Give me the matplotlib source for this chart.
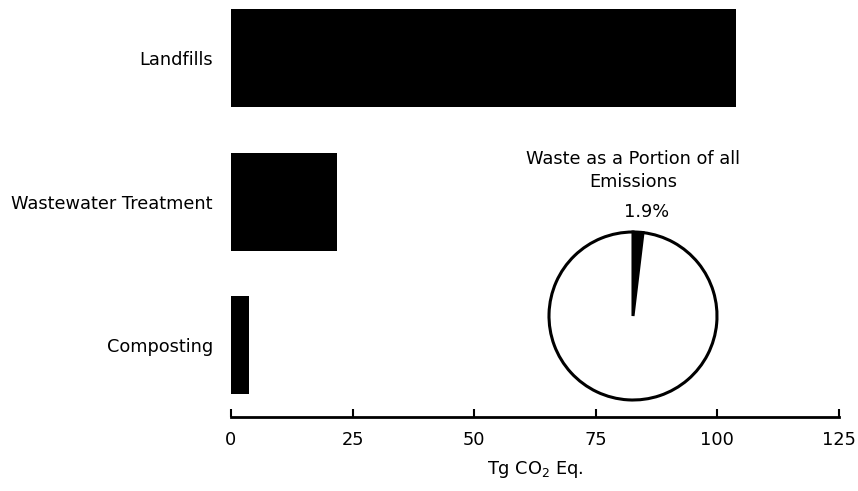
"""
Waste sector emissions: bar chart with a pie inset
"""
import matplotlib

matplotlib.use("Agg")
import matplotlib.pyplot as plt

# Data
categories = ["Landfills", "Wastewater Treatment", "Composting"]
emissions = [103.8, 21.7, 3.8]
xticks = [0, 25, 50, 75, 100, 125]

pie_labels = ["Waste", "Other"]
pie_share = [1.9, 98.1]

plt.rcParams["font.family"] = ["DejaVu Sans"]
FS = 12.8

W, H = 858, 491
fig = plt.figure(figsize=(W / 100, H / 100), dpi=100)

# Main bar axes (top edge goes above figure, like the original)
ax = fig.add_axes([231 / W, 1 - 417 / H, (839 - 231) / W, (417 + 13.5) / H])
ypos = list(range(len(categories)))[::-1]
ax.barh(ypos, emissions, height=0.686, color="black")
ax.set_ylim(-0.5, len(categories) - 0.5)
ax.set_xlim(0, 125)
ax.set_xticks(xticks)
ax.set_yticks(ypos)
ax.set_yticklabels(categories, fontsize=FS)
ax.tick_params(axis="y", length=0, pad=13)
ax.tick_params(axis="x", direction="in", length=6, width=1.5, labelsize=FS, pad=10)
for side in ["top", "right", "left"]:
    ax.spines[side].set_visible(False)
ax.spines["bottom"].set_linewidth(2)
ax.set_xlabel("Tg CO$_2$ Eq.", fontsize=FS, labelpad=7)

# Pie inset
cx, cy, r = 633, 316, 84
pax = fig.add_axes([(cx - r) / W, 1 - (cy + r) / H, 2 * r / W, 2 * r / H])
pax.pie(
    pie_share,
    colors=["black", "white"],
    startangle=90,
    counterclock=False,
    radius=1,
    wedgeprops={"edgecolor": "black", "linewidth": 2.2},
)
pax.set_xlim(-1, 1)
pax.set_ylim(-1, 1)
pax.text(0, (cy - 170.5) / r, "Waste as a Portion of all\nEmissions",
         ha="center", va="center", fontsize=FS, linespacing=1.3)
pax.text((647 - cx) / r, (cy - 212) / r, f"{pie_share[0]}%",
         ha="center", va="center", fontsize=FS)

fig.savefig("out.png", dpi=100)
